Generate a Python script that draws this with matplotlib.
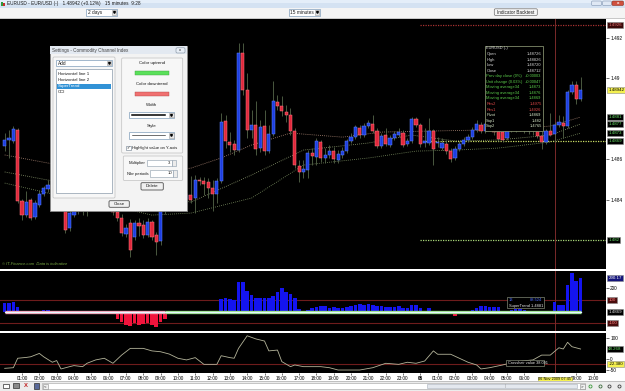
import matplotlib
matplotlib.use("Agg")
import matplotlib.pyplot as plt
import matplotlib.patches as patches
import numpy as np

plt.rcParams['font.family'] = ['Liberation Sans', 'DejaVu Sans']

W, H = 625, 391

# ---------------- data (15 minute EUR/USD bars, 00:00 -> 09:15 next day) ----------------
opens = [
    1.48664, 1.48694, 1.48689, 1.48743, 1.48392, 1.48323, 1.48397, 1.48313, 1.48373, 1.48427,
    1.48452, 1.48471, 1.48447, 1.48481, 1.48363, 1.48259, 1.48323, 1.48373, 1.48348, 1.48397,
    1.48437, 1.48407, 1.48447, 1.48417, 1.48387, 1.48363, 1.48338, 1.48309, 1.48229, 1.48284,
    1.48214, 1.48284, 1.48274, 1.48224, 1.48289, 1.48224, 1.48195, 1.48343, 1.48382, 1.48363,
    1.48402, 1.48382, 1.48402, 1.48422, 1.48407, 1.48496, 1.48491, 1.48486, 1.48457, 1.48427,
    1.48491, 1.48787, 1.48684, 1.48674, 1.48644, 1.49123, 1.48941, 1.48743, 1.48768, 1.48654,
    1.48763, 1.48639, 1.48723, 1.48881, 1.48862, 1.48832, 1.48817, 1.48738, 1.48565, 1.48536,
    1.48546, 1.48629, 1.48610, 1.48684, 1.48605, 1.48620, 1.48639, 1.48595, 1.48620, 1.48639,
    1.48689, 1.48708, 1.48753, 1.48718, 1.48763, 1.48773, 1.48738, 1.48664, 1.48718, 1.48669,
    1.48704, 1.48718, 1.48728, 1.48674, 1.48689, 1.48797, 1.48768, 1.48679, 1.48679, 1.48738,
    1.48679, 1.48654, 1.48674, 1.48639, 1.48605, 1.48649, 1.48674, 1.48694, 1.48708, 1.48743,
    1.48768, 1.48738, 1.48773, 1.48753, 1.48738, 1.48733, 1.48704, 1.48743, 1.48758, 1.48748,
    1.48763, 1.48738, 1.48753, 1.48738, 1.48713, 1.48684, 1.48738, 1.48723, 1.48768, 1.48778,
    1.48763, 1.48931, 1.48965, 1.48896]
closes = [
    1.48694, 1.48704, 1.48748, 1.48392, 1.48323, 1.48387, 1.48309, 1.48382, 1.48427, 1.48457,
    1.48471, 1.48447, 1.48481, 1.48373, 1.48249, 1.48333, 1.48373, 1.48348, 1.48397, 1.48437,
    1.48407, 1.48447, 1.48417, 1.48387, 1.48363, 1.48338, 1.48309, 1.48234, 1.48259, 1.48151,
    1.48284, 1.48269, 1.48224, 1.48289, 1.48214, 1.48190, 1.48343, 1.48382, 1.48363, 1.48402,
    1.48382, 1.48412, 1.48422, 1.48397, 1.48496, 1.48491, 1.48476, 1.48457, 1.48427, 1.48491,
    1.48783, 1.48689, 1.48669, 1.48644, 1.49123, 1.48941, 1.48743, 1.48768, 1.48649, 1.48758,
    1.48639, 1.48723, 1.48886, 1.48862, 1.48837, 1.48817, 1.48738, 1.48570, 1.48536, 1.48550,
    1.48629, 1.48615, 1.48689, 1.48605, 1.48620, 1.48639, 1.48600, 1.48625, 1.48639, 1.48689,
    1.48708, 1.48758, 1.48718, 1.48763, 1.48778, 1.48738, 1.48664, 1.48713, 1.48674, 1.48704,
    1.48723, 1.48733, 1.48669, 1.48689, 1.48797, 1.48768, 1.48674, 1.48689, 1.48738, 1.48649,
    1.48684, 1.48679, 1.48639, 1.48600, 1.48649, 1.48674, 1.48694, 1.48708, 1.48743, 1.48773,
    1.48738, 1.48773, 1.48753, 1.48733, 1.48699, 1.48694, 1.48743, 1.48758, 1.48748, 1.48763,
    1.48743, 1.48753, 1.48738, 1.48713, 1.48684, 1.48738, 1.48718, 1.48768, 1.48783, 1.48763,
    1.48931, 1.48965, 1.48896, 1.48942]
highs = [
    1.48728, 1.48743, 1.48763, 1.48753, 1.48402, 1.48442, 1.48407, 1.48397, 1.48447, 1.48466,
    1.48496, 1.48486, 1.48496, 1.48491, 1.48373, 1.48348, 1.48397, 1.48397, 1.48417, 1.48457,
    1.48457, 1.48466, 1.48461, 1.48432, 1.48402, 1.48378, 1.48353, 1.48328, 1.48279, 1.48304,
    1.48299, 1.48309, 1.48299, 1.48309, 1.48299, 1.48239, 1.48353, 1.48402, 1.48397, 1.48417,
    1.48417, 1.48427, 1.48432, 1.48516, 1.48521, 1.48511, 1.48511, 1.48506, 1.48496, 1.48506,
    1.48827, 1.48817, 1.48733, 1.48694, 1.49173, 1.49173, 1.49024, 1.48842, 1.48886, 1.48792,
    1.48842, 1.48768, 1.48985, 1.48916, 1.48911, 1.48866, 1.48852, 1.48753, 1.48595, 1.48595,
    1.48644, 1.48654, 1.48704, 1.48694, 1.48654, 1.48669, 1.48659, 1.48644, 1.48659, 1.48699,
    1.48728, 1.48768, 1.48768, 1.48778, 1.48792, 1.48817, 1.48753, 1.48728, 1.48753, 1.48718,
    1.48738, 1.48753, 1.48743, 1.48704, 1.48807, 1.48807, 1.48778, 1.48753, 1.48802, 1.48748,
    1.48708, 1.48704, 1.48694, 1.48654, 1.48664, 1.48689, 1.48708, 1.48723, 1.48758, 1.48792,
    1.48783, 1.48792, 1.48792, 1.48768, 1.48753, 1.48748, 1.48758, 1.48778, 1.48773, 1.48783,
    1.48778, 1.48768, 1.48768, 1.48753, 1.48738, 1.48748, 1.48827, 1.48783, 1.48817, 1.48812,
    1.48941, 1.48985, 1.48985, 1.49005]
lows = [
    1.48639, 1.48605, 1.48679, 1.48382, 1.48299, 1.48313, 1.48299, 1.48304, 1.48363, 1.48417,
    1.48437, 1.48427, 1.48432, 1.48358, 1.48234, 1.48244, 1.48313, 1.48328, 1.48323, 1.48318,
    1.48387, 1.48392, 1.48397, 1.48368, 1.48348, 1.48323, 1.48294, 1.48219, 1.48214, 1.48116,
    1.48200, 1.48219, 1.48210, 1.48214, 1.48200, 1.48126, 1.48175, 1.48328, 1.48343, 1.48348,
    1.48368, 1.48368, 1.48397, 1.48382, 1.48333, 1.48471, 1.48422, 1.48407, 1.48343, 1.48382,
    1.48481, 1.48654, 1.48634, 1.48620, 1.48634, 1.48916, 1.48704, 1.48704, 1.48620, 1.48634,
    1.48620, 1.48629, 1.48713, 1.48842, 1.48812, 1.48783, 1.48718, 1.48555, 1.48486, 1.48506,
    1.48506, 1.48570, 1.48570, 1.48585, 1.48580, 1.48605, 1.48580, 1.48580, 1.48605, 1.48629,
    1.48679, 1.48699, 1.48704, 1.48708, 1.48753, 1.48728, 1.48654, 1.48654, 1.48664, 1.48659,
    1.48694, 1.48708, 1.48659, 1.48664, 1.48679, 1.48758, 1.48659, 1.48659, 1.48669, 1.48570,
    1.48659, 1.48644, 1.48625, 1.48585, 1.48595, 1.48639, 1.48664, 1.48684, 1.48699, 1.48733,
    1.48728, 1.48728, 1.48738, 1.48718, 1.48689, 1.48684, 1.48694, 1.48733, 1.48733, 1.48738,
    1.48728, 1.48723, 1.48718, 1.48704, 1.48649, 1.48674, 1.48713, 1.48684, 1.48758, 1.48704,
    1.48753, 1.48921, 1.48871, 1.48886]

# moving average lines (bar index, price)
ma1_bars = [0, 10, 22, 34, 43, 50, 57, 66, 78, 87, 98, 110, 119, 126, 133]
ma1_vals = [1.48620, 1.48580, 1.48546, 1.48536, 1.48555, 1.48605, 1.48669, 1.48728,
            1.48708, 1.48733, 1.48738, 1.48743, 1.48748, 1.48763, 1.48807]
ma2_bars = [0, 10, 22, 34, 43, 57, 69, 84, 94, 104, 114, 126, 133]
ma2_vals = [1.48536, 1.48496, 1.48457, 1.48422, 1.48387, 1.48521, 1.48644, 1.48679,
            1.48718, 1.48689, 1.48694, 1.48718, 1.48773]
ma3_bars = [0, 10, 22, 34, 43, 57, 69, 84, 95, 104, 114, 126, 133]
ma3_vals = [1.48481, 1.48432, 1.48382, 1.48323, 1.48333, 1.48407, 1.48570, 1.48605,
            1.48639, 1.48644, 1.48654, 1.48684, 1.48728]

# pivot levels for the new day
res1, pivot, sup1 = 1.4926, 1.4869, 1.482
day2_start = 96

# CCI histogram (SuperTrend panel)
cci_hist = [75, 75, 80, 40, 10, 5, 0, 5, 10, 15,
            15, 10, 5, 0, -10, -15, -10, -8, -5, -10,
            -8, -15, -10, -5, 0, -20, -60, -90, -110, -125,
            -100, -110, -105, -95, -110, -130, -90, -60, -15, -10,
            -5, 0, -12, -10, 0, 0, 0, 0, -20, 0,
            110, 120, 110, 100, 250, 250, 180, 140, 120, 115,
            120, 115, 130, 170, 200, 170, 150, 120, 20, 0,
            15, 30, 40, 50, 45, 30, 40, 35, 30, 40,
            50, 60, 70, 60, 65, 60, 45, 45, 40, 40,
            40, 45, 30, 35, 60, 60, 30, 5, 30, 5,
            0, 0, 0, -20, -40, -20, 0, 5, 15, 30,
            50, 45, 40, 40, 40, 5, 5, 15, 20, 25,
            15, 10, 10, 5, -15, 5, 10, 80, 60, 60,
            230, 330, 260, 290]
trend_flip = 37

# CCI line (bar index, value)
cci_bars = [0, 2, 3, 5, 6, 8, 9, 11, 12, 13, 15, 16, 18, 19, 21, 23, 25, 27, 29, 32, 34, 36, 38,
            40, 42, 44, 46, 49, 50, 52, 53, 54, 56, 58, 60, 61, 63, 64, 66, 67, 69, 73, 75, 77,
            82, 85, 88, 91, 93, 95, 97, 99, 100, 103, 105, 107, 109, 110, 112, 115, 118, 122,
            124, 126, 128, 129, 130, 131, 133]
cci_vals = [-43, -40, 5, 9, 12, 28, 12, -14, -6, -46, -35, -30, -35, -19, -3, 5, -19, 20, 52, 52,
            40, 36, 25, 5, -3, 8, -24, -24, 17, 8, 5, 52, 112, 97, 87, 40, 44, -11, -35, -27,
            -35, -35, -40, -51, -51, -40, -19, -24, -14, -19, -8, 40, 24, 24, 5, -14, -27, -46,
            -40, -27, -11, -3, 20, 20, 55, 49, 81, 60, 49]

cross_bar = 127
cross_val = -22.38

hour_ticks = list(range(4, 124, 4)) + [132, 136]
hour_labels = ['%02d:00' % h for h in range(1, 24)] + ['06'] + \
              ['%02d:00' % h for h in range(1, 7)] + ['09:00', '10:00']

# ---------------- layout helpers ----------------
fig = plt.figure(figsize=(W / 100, H / 100), dpi=100, facecolor='white')

X0, DX = 4.7, 4.33          # pixel position of bar 0 and bar spacing
PLOT_W = 606


def px_axes(x, y, w, h, **kw):
    return fig.add_axes([x / W, 1 - (y + h) / H, w / W, h / H], **kw)


def style_panel(a):
    a.set_facecolor('black')
    for s in a.spines.values():
        s.set_visible(False)
    a.set_xlim((0 - X0) / DX, (PLOT_W - X0) / DX)
    a.yaxis.tick_right()
    a.tick_params(axis='y', labelsize=3.4, length=2, width=0.4, pad=1, colors='black')
    a.tick_params(axis='x', bottom=False, labelbottom=False)


def value_box(a, value, text, fc, tc, ec='#8a8a8a'):
    a.text(1.004, value, text, transform=a.get_yaxis_transform(), fontsize=3.2, color=tc,
           ha='left', va='center', clip_on=False, zorder=6,
           bbox=dict(boxstyle='square,pad=0.22', fc=fc, ec=ec, lw=0.4))


# ---------------- main price panel ----------------
ax = px_axes(0, 19, PLOT_W, 250)
style_panel(ax)
ax.set_ylim(1.480568, 1.492914)
ax.set_yticks([1.492, 1.490, 1.486, 1.484])
ax.set_yticklabels(['1.492', '1.49', '1.486', '1.484'])

idx = np.arange(len(opens))
o = np.array(opens)
c = np.array(closes)
up = c >= o
ax.vlines(idx, lows, highs, color='#55664a', lw=0.6, zorder=2)
body = np.maximum(np.abs(c - o), 0.00004)
ax.bar(idx[up], body[up], bottom=o[up], width=0.74, color='#1e3ee0',
       edgecolor='#5f86ff', lw=0.35, zorder=3)
ax.bar(idx[~up], body[~up], bottom=c[~up], width=0.74, color='#e0283c',
       edgecolor='#ff7a80', lw=0.35, zorder=3)

ax.plot(ma1_bars, ma1_vals, color='#b08a78', lw=0.6, ls=(0, (1, 1.5)), zorder=1)
ax.plot(ma2_bars, ma2_vals, color='#8e9c70', lw=0.6, ls=(0, (1, 1.5)), zorder=1)
ax.plot(ma3_bars, ma3_vals, color='#7c9062', lw=0.6, ls=(0, (1, 1.5)), zorder=1)

xmax = ax.get_xlim()[1]
ax.hlines(res1, day2_start, xmax, color='#a83232', lw=0.9, ls=(0, (1, 1)), zorder=1)
ax.hlines(pivot, day2_start, xmax, color='#c8dc64', lw=0.9, ls=(0, (1, 1)), zorder=1)
ax.hlines(sup1, day2_start, xmax, color='#a8d878', lw=0.9, ls=(0, (1, 1)), zorder=1)
ax.axvline(cross_bar, color='#7a2a2a', lw=0.7, zorder=1)

ax.text(0.004, 0.012, '\u00a9 IT-Finance.com  Data is indicative', transform=ax.transAxes,
        fontsize=3.0, color='#7aaa44', style='italic', va='bottom')

value_box(ax, res1, '1.4926', '#3a0808', '#e07070')
value_box(ax, closes[-1], '1.48942', '#f4f050', 'black')
value_box(ax, ma1_vals[-1], '1.4881', 'black', '#66dd66')
value_box(ax, ma2_vals[-1], '1.4877', 'black', '#66dd66')
value_box(ax, ma3_vals[-1], '1.4873', 'black', '#66dd66')
value_box(ax, pivot, '1.4869', 'black', '#66dd66')
value_box(ax, sup1, '1.482', 'black', '#66dd66')

# ---------------- SuperTrend / CCI histogram panel ----------------
ax1 = px_axes(0, 271, PLOT_W, 60)
style_panel(ax1)
ax1.set_ylim(-165, 348)
ax1.set_yticks([200])
ax1.set_yticklabels(['200'])
h = np.array(cci_hist)
ax1.bar(idx, h, width=0.82, color=np.where(h >= 0, '#1414f0', '#f0143c'), zorder=2)
ax1.axhline(100, color='#6e1c1c', lw=0.8, zorder=1)
ax1.axhline(-100, color='#6e1c1c', lw=0.8, zorder=1)
ax1.plot([0, trend_flip], [0, 0], color='#f2a0b4', lw=2.4, zorder=3, solid_capstyle='butt')
ax1.plot([trend_flip, idx[-1]], [0, 0], color='#9ae08a', lw=2.4, zorder=3, solid_capstyle='butt')
ax1.plot([0, idx[-1]], [0, 0], color='#e4f8ff', lw=0.9, zorder=4)
ax1.axvline(cross_bar, color='#7a2a2a', lw=0.7, zorder=1)
value_box(ax1, cci_hist[-1], '290.17', '#14147a', 'white')
value_box(ax1, 100, '100', '#4a0c0c', '#ff8080')
value_box(ax1, 0, '1.4869', 'black', '#dddddd')
value_box(ax1, -100, '-100', '#4a0c0c', '#ff8080')

# ---------------- CCI line panel ----------------
ax2 = px_axes(0, 333, PLOT_W, 40)
style_panel(ax2)
ax2.set_ylim(-65.2, 125.2)
ax2.set_yticks([100, 0, -50])
ax2.set_yticklabels(['100', '0', '-50'])
ax2.plot(cci_bars, cci_vals, color='#b4b49a', lw=0.6, zorder=2)
ax2.axhline(cross_val, color='#6e1c1c', lw=0.8, zorder=1)
ax2.axvline(cross_bar, color='#7a2a2a', lw=0.7, zorder=1)
value_box(ax2, cci_vals[-1], '48.268', 'black', '#66dd66')
value_box(ax2, cross_val, '-22.380', '#f4f050', 'black')

ax2.tick_params(axis='x', bottom=True, labelbottom=True, labelsize=3.3, length=1.5,
                width=0.4, pad=0.8, colors='black')
ax2.set_xticks(hour_ticks)
ax2.set_xticklabels(hour_labels)
for t in ax2.get_xticklabels():
    if t.get_text() == '06':
        t.set_fontweight('bold')
ax2.text(cross_bar, -0.11, '06 Nov 2009 07:45', transform=ax2.get_xaxis_transform(),
         fontsize=2.8, ha='center', va='top', clip_on=False, zorder=7,
         bbox=dict(boxstyle='square,pad=0.15', fc='#f4f050', ec='#9a9a40', lw=0.4))

# ---------------- window chrome / dialogs (pixel overlay) ----------------
ov = fig.add_axes([0, 0, 1, 1], zorder=20)
ov.set_xlim(0, W)
ov.set_ylim(H, 0)
ov.axis('off')
ov.patch.set_visible(False)


def rect(x, y, w, h, fc, ec='none', lw=0.5, z=1):
    ov.add_patch(patches.Rectangle((x, y), w, h, facecolor=fc, edgecolor=ec, linewidth=lw, zorder=z))


def rbox(x, y, w, h, fc, ec='#7a7a7a', lw=0.5, z=1):
    ov.add_patch(patches.FancyBboxPatch((x, y), w, h, boxstyle='round,pad=0,rounding_size=1.2',
                                        facecolor=fc, edgecolor=ec, linewidth=lw, zorder=z))


def txt(x, y, s, size=3.4, color='#1a1a1a', ha='left', z=5, **kw):
    ov.text(x, y, s, fontsize=size, color=color, ha=ha, va='center', zorder=z, **kw)


def combo(x, y, w, h, s, z=12):
    rect(x, y, w, h, 'white', '#7f9db9', 0.5, z)
    rect(x + w - 5.5, y + 0.8, 4.8, h - 1.6, '#e8e8e8', '#9a9a9a', 0.4, z + 0.1)
    ov.plot([x + w - 3.1], [y + h / 2], marker='v', ms=1.3, color='black', zorder=z + 0.2)
    txt(x + 1.5, y + h / 2, s, z=z + 0.2)


# title bar
rect(0, 0, W, 7.5, '#d4e2f2')
rect(0, 0, W, 2.5, '#e4eef9')
rect(1, 1.5, 1.6, 4.5, '#2e9a3e')
rect(3, 2.5, 1.6, 3.5, '#c8302a')
txt(7, 3.9, 'EURUSD - EUR/USD (-)   1.48942 (+0.12%)   15 minutes  9:28', size=3.4)
rbox(591.5, 1, 10, 4.5, '#dfe8f4', '#8094b0', 0.4)
rbox(602.5, 1, 9, 4.5, '#dfe8f4', '#8094b0', 0.4)
rbox(612, 1, 11.5, 4.5, '#d0503e', '#8a3020', 0.4)
txt(617.7, 3.2, 'x', size=3.2, color='white', ha='center', weight='bold')

# toolbar
rect(0, 7.5, W, 11.5, '#f4f4f4')
rect(0, 18.3, W, 0.7, '#c8c8c8')
combo(86, 9.3, 31, 6.2, '2 days')
combo(289, 9.3, 31, 6.2, '15 minutes')
rbox(494.3, 8.8, 43, 6.6, '#f6f6f6', '#6e6e6e', 0.5)
txt(515.8, 12.1, 'Indicator Backtest', ha='center', size=3.3)

# bottom toolbar
rect(0, 381, W, 10, '#ececec')
rect(0, 381, W, 0.5, '#c0c0c0')
rect(2.5, 383.5, 6, 4.5, 'white', '#303030', 0.5)
rect(12.5, 383, 6.5, 5, '#8a8a8a', '#303030', 0.5)
txt(26, 385.5, 'X', size=4.2, color='#c02020', ha='center', weight='bold')
rect(33.5, 383, 5.5, 5.5, '#5a6a9a', '#303030', 0.5)
rect(42, 383, 543, 6, 'white', '#a0a0a0', 0.4)
rect(42.5, 383.5, 5, 5, '#f0f0f0', '#8a8a8a', 0.4)
txt(45, 386, '<', size=3.2, ha='center')
rect(427, 383.6, 150, 4.8, '#e4e8ee', '#a8b0bc', 0.4)
txt(506, 386, '||', size=2.5, color='#8a8a8a', ha='center')
rect(579.5, 383.5, 5, 5, '#f0f0f0', '#8a8a8a', 0.4)
txt(582, 386, '>', size=3.2, ha='center')
for i, col in enumerate(['#3a9a3a', '#3a6a3a', '#404040', '#404040']):
    ov.plot([590 + i * 9.5], [386], marker='o', ms=2.2, mfc='none', mec=col, mew=0.6)

# tooltips in the indicator panels
rect(507, 297.3, 37, 11, 'black', '#a0a890', 0.4, 8)
txt(509, 300.2, '13', size=2.9, color='#4a6aff', z=9)
txt(542.5, 300.2, '88.524', size=2.9, color='#4a6aff', ha='right', z=9)
txt(509, 305.5, 'SuperTrend 1.4881', size=2.9, color='#e8e8e8', z=9)
rect(506, 360, 38, 5.8, 'black', '#a0a890', 0.4, 8)
txt(507.5, 363, 'Crosshair value 38.091', size=2.8, color='#e8e8e8', z=9)

# settings dialog
rect(50, 46, 137, 165, '#f3f3f3', '#8c8c8c', 0.6, 10)
rect(50.4, 46.4, 136.2, 8, '#e3e9f1', z=10.2)
txt(52.5, 50.8, 'Settings - Commodity Channel Index', size=3.3, color='#404040', z=11)
rbox(176, 47.8, 9, 5.2, '#e8eef6', '#7a8a9a', 0.4, 11)
txt(180.5, 50.4, 'x', size=3, ha='center', z=12)
rbox(53, 57, 62, 141, '#f7f7f7', '#c0c0c0', 0.5, 10.5)
combo(56, 60, 56, 6.2, 'Add')
rect(56, 69, 56, 124, 'white', '#8a9aaa', 0.5, 11)
rect(56.8, 83.7, 54.4, 5.6, '#3192d6', z=11.5)
for yy, s, col in [(74.3, 'Horizontal line 1', '#1a1a1a'), (80.3, 'Horizontal line 2', '#1a1a1a'),
                   (86.5, 'SuperTrend', 'white'), (92.3, 'CCI', '#1a1a1a')]:
    txt(57.5, yy, s, size=3.2, color=col, z=12)
rbox(121.7, 58, 61, 95, '#f7f7f7', '#c0c0c0', 0.5, 10.5)
txt(152, 63.3, 'Color uptrend', size=3.2, ha='center', z=12)
rect(135, 70.7, 34.3, 4.3, '#5ae05a', '#40a040', 0.3, 12)
txt(152, 84, 'Color downtrend', size=3.2, ha='center', z=12)
rect(135, 91.7, 34.3, 4.3, '#f07070', '#b04848', 0.3, 12)
txt(152, 105, 'Width', size=3.2, ha='center', z=12)
combo(129.3, 111.7, 45, 6, '')
ov.plot([131.5, 165], [114.7, 114.7], color='black', lw=1.1, zorder=13)
txt(152, 125.7, 'Style', size=3.2, ha='center', z=12)
combo(129.3, 132.3, 45, 6.3, '')
ov.plot([131.5, 165], [135.4, 135.4], color='black', lw=0.4, zorder=13)
rect(126, 146, 4.5, 4.2, 'white', '#6a7a8a', 0.4, 12)
txt(128.2, 148, '\u2713', size=3, ha='center', z=13)
txt(132, 148.2, 'Highlight value on Y-axis', size=3.1, z=12)
rbox(123.3, 156, 59.4, 24.5, '#f7f7f7', '#c0c0c0', 0.5, 10.5)
txt(145.5, 162.9, 'Multiplier', size=3.1, ha='right', z=12)
rect(146.7, 160, 25, 5.7, 'white', '#8a9aaa', 0.4, 12)
txt(170.5, 162.9, '3', size=3.1, ha='right', z=13)
rect(171.7, 160, 3.8, 5.7, '#ececec', '#8a9aaa', 0.4, 12)
txt(149, 173.5, 'Nbr periods', size=3.1, ha='right', z=12)
rect(150, 170.4, 23.3, 6.3, 'white', '#8a9aaa', 0.4, 12)
txt(172, 173.5, '10', size=3.1, ha='right', z=13)
rect(173.3, 170.4, 3.8, 6.3, '#ececec', '#8a9aaa', 0.4, 12)
rbox(141, 182.7, 22.3, 7.3, '#f0f0f0', '#505050', 0.6, 12)
txt(152.2, 186.4, 'Delete', size=3.2, ha='center', z=13)
rbox(109, 200.7, 20.3, 6.6, '#f0f0f0', '#505050', 0.6, 12)
txt(119.2, 204, 'Close', size=3.2, ha='center', z=13)

# crosshair info box
rect(485, 46, 58, 85, 'black', '#9aa880', 0.5, 10)
info = [('EURUSD (-)', '', '#d8d8d8'), ('Open', '1.48726', '#d8d8d8'), ('High', '1.48826', '#d8d8d8'),
        ('Low', '1.48720', '#d8d8d8'), ('Close', '1.48712', '#d8d8d8'),
        ('Prev day close (0%)', '+0.00003', '#5acc4a'), ('Unit change (0.03%)', '+0.00047', '#5acc4a'),
        ('Moving average34', '1.4873', '#5acc4a'), ('Moving average34', '1.4876', '#5acc4a'),
        ('Moving average34', '1.4869', '#5acc4a'), ('Res2', '1.4975', '#e04848'),
        ('Res1', '1.4926', '#e04848'), ('Pivot', '1.4869', '#d8e8c8'), ('Sup1', '1.482', '#d8e8c8'),
        ('Sup2', '1.4765', '#d8e8c8')]
for k, (name, val, col) in enumerate(info):
    yy = 48.5 + k * 5.55
    txt(486.3, yy, name, size=2.9, color=col, z=11)
    txt(541.5, yy, val, size=2.9, color=col, ha='right', z=11)

fig.savefig('out.png', dpi=100, facecolor=fig.get_facecolor())
